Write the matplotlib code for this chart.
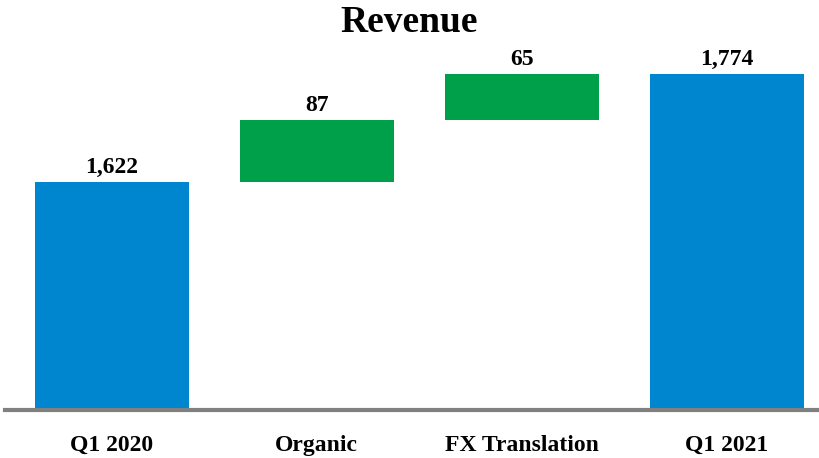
import matplotlib.pyplot as plt

categories = ["Q1 2020", "Organic", "FX Translation", "Q1 2021"]
values = [1622, 87, 65, 1774]
labels = ["1,622", "87", "65", "1,774"]
kinds = ["total", "delta", "delta", "total"]

blue = "#0085CF"
green = "#00A04A"

# float the delta bars on a running total
bottoms = []
heights = []
colors = []
running = 0
for v, k in zip(values, kinds):
    if k == "total":
        bottoms.append(0)
        heights.append(v)
        colors.append(blue)
        running = v
    else:
        bottoms.append(running)
        heights.append(v)
        colors.append(green)
        running += v

fig = plt.figure(figsize=(8.19, 4.58), dpi=100)
ax = fig.add_axes([5 / 819, 48 / 458, 814 / 819, 350 / 458])

x = range(len(categories))
ax.bar(x, heights, bottom=bottoms, width=0.75, color=colors, edgecolor="none")

for i, (b, h, lab) in enumerate(zip(bottoms, heights, labels)):
    ax.text(i, b + h + 6, lab, ha="center", va="bottom",
            fontsize=17, fontweight="bold", family="Liberation Serif")

ax.set_ylim(1302, 1794)
ax.set_xlim(-0.52, 3.45)

for s in ["top", "right", "left"]:
    ax.spines[s].set_visible(False)
ax.spines["bottom"].set_color("#808080")
ax.spines["bottom"].set_linewidth(3)
ax.set_yticks([])
ax.set_xticks(list(x))
ax.set_xticklabels(categories, fontsize=17, fontweight="bold", family="Liberation Serif")
ax.tick_params(axis="x", length=0, pad=18)

fig.text(0.5, 1 - 22 / 458, "Revenue", ha="center", va="center",
         fontsize=27, fontweight="bold", family="Liberation Serif")

fig.savefig("out.png", dpi=100)
